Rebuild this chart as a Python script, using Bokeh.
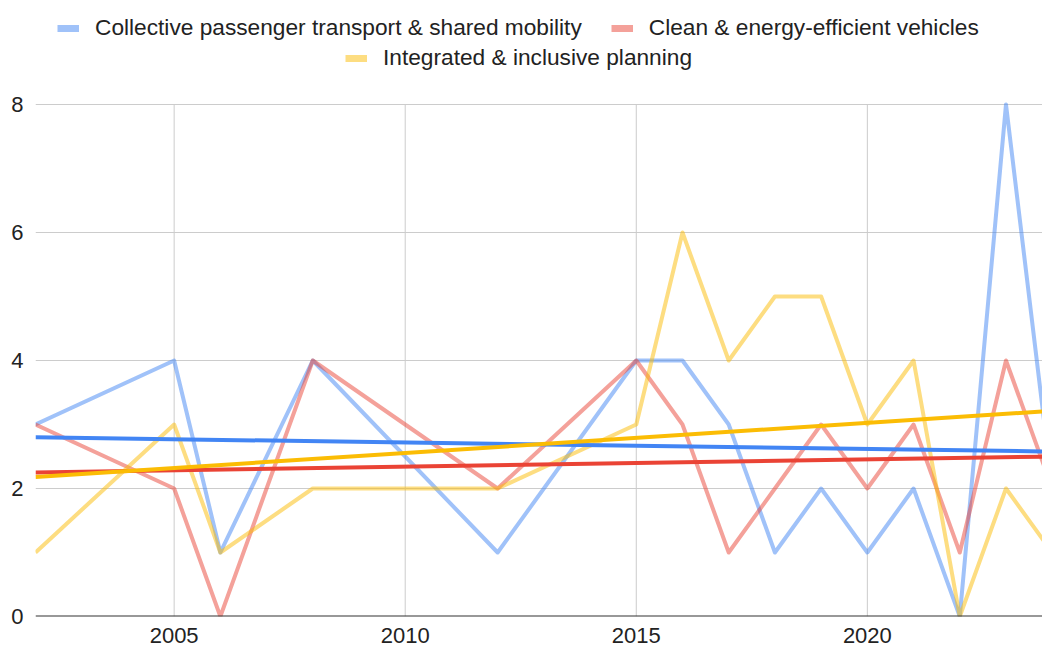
import numpy as np
from bokeh.plotting import figure
from bokeh.models import Legend, LegendItem, FixedTicker, Range1d, Span
from bokeh.embed import file_html
from bokeh.resources import INLINE

# ---- data ----
years = [2002, 2005, 2006, 2008, 2012, 2015, 2016, 2017, 2018, 2019, 2020, 2021, 2022, 2023, 2024]
collective = [3, 4, 1, 4, 1, 4, 4, 3, 1, 2, 1, 2, 0, 8, 2]
clean = [3, 2, 0, 4, 2, 4, 3, 1, 2, 3, 2, 3, 1, 4, 2]
integrated = [1, 3, 1, 2, 2, 3, 6, 4, 5, 5, 3, 4, 0, 2, 1]
series_names = [
    "Collective passenger transport & shared mobility",
    "Clean & energy-efficient vehicles",
    "Integrated & inclusive planning",
]
x_ticks = [2005, 2010, 2015, 2020]
y_ticks = [0, 2, 4, 6, 8]
x_view = [2002, 2023.79]
y_view = [0, 9.625]   # headroom above 8 holds the legend
y_max_tick = 8

colors = ["#4285F4", "#EA4335", "#FBBC04"]
FONT = "Liberation Sans"
TXT = "#222222"

p = figure(
    width=1042, height=646,
    x_range=Range1d(*x_view), y_range=Range1d(*y_view),
    output_backend="svg", toolbar_location=None,
    min_border_left=35, min_border_right=0,
    min_border_top=0, min_border_bottom=30,
)
p.outline_line_color = None
p.background_fill_color = "white"
p.border_fill_color = "white"

p.xaxis.ticker = FixedTicker(ticks=x_ticks)
p.yaxis.ticker = FixedTicker(ticks=y_ticks)
for ax in (p.xaxis, p.yaxis):
    ax.axis_line_color = None
    ax.major_tick_line_color = None
    ax.minor_tick_line_color = None
    ax.major_tick_out = 0
    ax.major_tick_in = 0
    ax.minor_tick_out = 0
    ax.minor_tick_in = 0
    ax.major_label_text_font = FONT
    ax.major_label_text_color = TXT
    ax.major_label_text_font_size = "22px"
p.xaxis.major_label_standoff = 11
p.yaxis.major_label_standoff = 12

# horizontal grid from the axis; vertical grid limited to the 0..8 value band
p.ygrid.grid_line_color = "#cccccc"
p.ygrid.grid_line_width = 1
p.xgrid.grid_line_color = None
p.segment(x0=x_ticks, y0=[y_ticks[0]] * len(x_ticks), x1=x_ticks, y1=[y_max_tick] * len(x_ticks),
          line_color="#cccccc", line_width=1)

series = [collective, clean, integrated]
for vals, c in zip(series, colors):
    p.line(years, vals, line_color=c, line_alpha=0.5, line_width=4, line_join="round")

# baseline at 0
p.add_layout(Span(location=0, dimension="width", line_color="#333333", line_width=2))

# linear trend lines
for vals, c in zip(series, colors):
    k, b = np.polyfit(years, vals, 1)
    tx = [years[0], years[-1]]
    ty = [k * years[0] + b, k * years[-1] + b]
    p.line(tx, ty, line_color=c, line_width=4)

# legend swatch proxies (draw nothing in the plot; only used by the legend)
swatches = []
for c in colors:
    s = p.line(x=[np.nan], y=[np.nan], line_color=c, line_alpha=0.5, line_width=7, line_cap="butt")
    swatches.append(s)

def make_legend(idx, loc):
    return Legend(
        items=[LegendItem(label=series_names[i], renderers=[swatches[i]]) for i in idx],
        location=loc, orientation="horizontal",
        label_standoff=16, spacing=29, padding=0, margin=0,
        glyph_width=22, glyph_height=26, label_height=26,
        label_text_font=FONT, label_text_font_size="22.7px", label_text_color=TXT,
        border_line_color=None, background_fill_alpha=0,
    )

p.add_layout(make_legend([0, 1], (22, 575)))
p.add_layout(make_legend([2], (310, 545)))

open("out.html", "w").write(file_html(p, INLINE))
